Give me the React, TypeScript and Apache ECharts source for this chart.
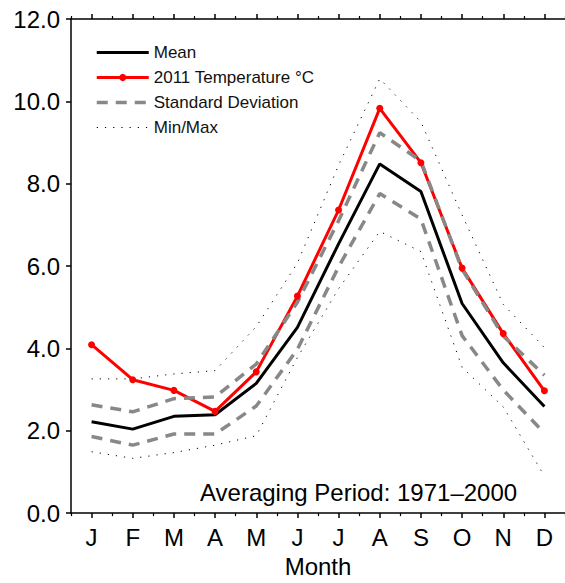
import React, { useEffect, useRef } from "react";
import * as echarts from "echarts";

const monthCategories = ["Jan", "Feb", "Mar", "Apr", "May", "Jun", "Jul", "Aug", "Sep", "Oct", "Nov", "Dec"];
const monthLabels = ["J", "F", "M", "A", "M", "J", "J", "A", "S", "O", "N", "D"];

const meanValues = [2.22, 2.04, 2.35, 2.39, 3.15, 4.51, 6.54, 8.48, 7.81, 5.09, 3.65, 2.59];
const temp2011 = [4.09, 3.24, 2.98, 2.47, 3.43, 5.27, 7.36, 9.83, 8.51, 5.95, 4.36, 2.97];
const sdUpper = [2.63, 2.46, 2.78, 2.82, 3.62, 5.12, 7.1, 9.24, 8.55, 5.92, 4.3, 3.35];
const sdLower = [1.86, 1.65, 1.92, 1.92, 2.6, 3.98, 5.98, 7.76, 7.14, 4.31, 2.99, 1.94];
const maxValues = [3.26, 3.26, 3.38, 3.46, 4.53, 6.07, 8.45, 10.55, 9.5, 7.24, 5.07, 4.02];
const minValues = [1.49, 1.33, 1.47, 1.65, 1.88, 3.78, 5.45, 6.84, 6.35, 3.54, 2.58, 0.9];

const yTicks = { min: 0, max: 12, interval: 2 };
const FONT = "'Liberation Sans', Arial, Helvetica, sans-serif";

export default function App() {
  const ref = useRef<HTMLDivElement>(null);

  useEffect(() => {
    if (!ref.current) return;
    const chart = echarts.init(ref.current, undefined, { renderer: "svg" });

    const axisLine = { show: true, lineStyle: { color: "#000", width: 1.5 } };
    const baseX = {
      type: "category",
      data: monthCategories,
      boundaryGap: true,
      splitLine: { show: false },
    };

    const sdStyle = { color: "#888888", width: 3.5, type: [11, 8], cap: "butt" };
    const mmStyle = { color: "#000", width: 1, type: [1.2, 7] };
    const noSymbol = { opacity: 0 };

    chart.setOption({
      animation: false,
      title: {
        text: "Averaging Period: 1971\u20132000",
        left: 200,
        top: 480,
        padding: 0,
        textStyle: { fontFamily: FONT, fontSize: 24, fontWeight: "normal", color: "#000" },
      },
      legend: {
        orient: "vertical",
        left: 95,
        top: 44,
        itemWidth: 52,
        itemHeight: 9,
        itemGap: 8,
        selectedMode: false,
        padding: 0,
        lineStyle: { width: "inherit" },
        textStyle: { fontFamily: FONT, fontSize: 17, color: "#111", lineHeight: 17 },
        data: [
          { name: "Mean", itemStyle: noSymbol },
          { name: "2011 Temperature \u00b0C" },
          { name: "Standard Deviation", itemStyle: noSymbol },
          { name: "Min/Max", itemStyle: noSymbol },
        ],
      },
      grid: { left: 71, right: -1, top: 19, bottom: 66, containLabel: false },
      xAxis: [
        {
          ...baseX,
          position: "bottom",
          axisLine,
          axisTick: { show: true, alignWithLabel: true, length: 5, lineStyle: { color: "#000", width: 1.5 } },
          axisLabel: {
            show: true,
            margin: 12,
            fontFamily: FONT,
            fontSize: 24,
            color: "#000",
            formatter: (_v: string, i: number) => monthLabels[i],
          },
          name: "Month",
          nameLocation: "middle",
          nameGap: 39,
          nameTextStyle: { fontFamily: FONT, fontSize: 24, color: "#000" },
        },
        {
          ...baseX,
          position: "bottom",
          axisLine: { show: false },
          axisTick: { show: true, alignWithLabel: false, length: 3, lineStyle: { color: "#000", width: 1.2 } },
          axisLabel: { show: false },
        },
        {
          ...baseX,
          position: "top",
          axisLine,
          axisTick: { show: true, alignWithLabel: true, length: 5, lineStyle: { color: "#000", width: 1.5 } },
          axisLabel: { show: false },
        },
        {
          ...baseX,
          position: "top",
          axisLine: { show: false },
          axisTick: { show: true, alignWithLabel: false, length: 3, lineStyle: { color: "#000", width: 1.2 } },
          axisLabel: { show: false },
        },
      ],
      yAxis: {
        type: "value",
        min: yTicks.min,
        max: yTicks.max,
        interval: yTicks.interval,
        axisLine,
        axisTick: { show: true, length: 5, lineStyle: { color: "#000", width: 1.5 } },
        splitLine: { show: false },
        axisLabel: {
          margin: 11,
          fontFamily: FONT,
          fontSize: 24,
          color: "#000",
          formatter: (v: number) => v.toFixed(1),
        },
      },
      series: [
        {
          name: "Mean",
          type: "line",
          data: meanValues,
          symbol: "none",
          lineStyle: { color: "#000", width: 3 },
          itemStyle: { color: "#000" },
        },
        {
          name: "2011 Temperature \u00b0C",
          type: "line",
          data: temp2011,
          symbol: "circle",
          symbolSize: 7,
          lineStyle: { color: "#ff0000", width: 3 },
          itemStyle: { color: "#ff0000" },
        },
        {
          name: "Standard Deviation",
          type: "line",
          data: sdUpper,
          symbol: "none",
          lineStyle: sdStyle,
          itemStyle: { color: "#888888" },
        },
        {
          name: "Standard Deviation",
          type: "line",
          data: sdLower,
          symbol: "none",
          lineStyle: sdStyle,
          itemStyle: { color: "#888888" },
        },
        {
          name: "Min/Max",
          type: "line",
          data: maxValues,
          symbol: "none",
          lineStyle: mmStyle,
          itemStyle: { color: "#000" },
        },
        {
          name: "Min/Max",
          type: "line",
          data: minValues,
          symbol: "none",
          lineStyle: mmStyle,
          itemStyle: { color: "#000" },
        },
      ],
    });

    return () => chart.dispose();
  }, []);

  return (
    <div
      ref={ref}
      style={{ position: "fixed", left: 0, top: 0, width: 565, height: 583, background: "#fff" }}
    />
  );
}
